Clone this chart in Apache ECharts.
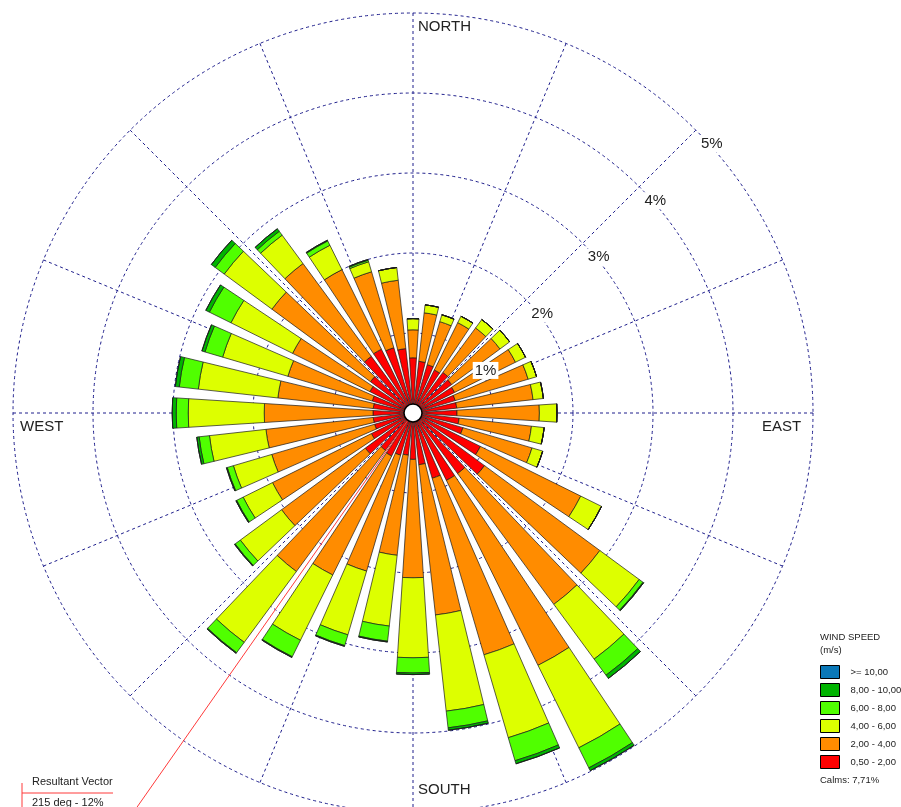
<!DOCTYPE html>
<html>
<head>
<meta charset="utf-8">
<title>Wind Rose</title>
<script src="https://cdn.jsdelivr.net/npm/echarts/dist/echarts.min.js"></script>
<style>
  html, body { margin: 0; padding: 0; background: #fff; }
  #main { width: 901px; height: 807px; }
</style>
</head>
<body>
<div id="main"></div>
<script>
// Wind directions (degrees, blowing from), 10-degree sectors
const directions = ['0','10','20','30','40','50','60','70','80','90','100','110',
  '120','130','140','150','160','170','180','190','200','210','220','230',
  '240','250','260','270','280','290','300','310','320','330','340','350'];

// Frequency (%) per speed class and direction
const speed_0_5_2 = [0.69,0.65,0.63,0.60,0.63,0.60,0.58,0.55,0.55,0.55,0.58,0.65,
  0.94,1.11,0.94,0.94,0.85,0.65,0.58,0.53,0.55,0.60,0.58,0.74,
  0.58,0.50,0.50,0.50,0.50,0.53,0.60,0.66,0.88,0.89,0.85,0.81];
const speed_2_4 = [0.35,0.61,0.56,0.66,0.69,0.75,0.85,0.95,0.96,1.03,0.91,0.90,
  1.40,1.79,2.03,2.58,2.30,1.89,1.48,1.26,1.51,1.66,1.88,1.30,
  1.38,1.34,1.35,1.36,1.20,1.10,1.08,1.53,1.44,1.11,0.99,0.86];
const speed_4_6 = [0.14,0.10,0.09,0.09,0.13,0.15,0.14,0.11,0.13,0.22,0.16,0.14,
  0.29,0.61,0.85,1.15,1.08,1.21,1.00,0.89,0.83,0.91,1.10,0.64,
  0.41,0.50,0.71,0.95,1.00,0.85,0.86,0.74,0.44,0.34,0.13,0.16];
const speed_6_8 = [0,0,0,0,0,0,0,0,0,0,0,0,
  0,0.06,0.25,0.28,0.30,0.21,0.19,0.19,0.14,0.23,0.16,0.08,
  0.09,0.08,0.13,0.15,0.24,0.23,0.30,0.14,0.06,0.06,0.02,0];
const speed_8_10 = [0,0,0,0,0,0,0,0,0,0,0,0,
  0,0.01,0.05,0.04,0.04,0.03,0.02,0.01,0.01,0.01,0.01,0.01,
  0.01,0.01,0.03,0.05,0.05,0.04,0.05,0.06,0.04,0.01,0.01,0];
const speed_10_up = [0,0,0,0,0,0,0,0,0,0,0,0,
  0,0,0,0,0,0,0,0,0,0,0,0,
  0,0,0,0,0,0,0,0,0,0,0,0];

// Speed class labels (m/s), innermost first
const classLabels = ['0,50 - 2,00','2,00 - 4,00','4,00 - 6,00','6,00 - 8,00','8,00 - 10,00','>= 10,00'];
const classValues = [speed_0_5_2, speed_2_4, speed_4_6, speed_6_8, speed_8_10, speed_10_up];
const classColors = ['#ff0000','#ff8c00','#ddff00','#50ff00','#00b400','#0a78b8'];

// Frequency rings (%)
const ringTicks = [1, 2, 3, 4, 5];
const compassLabels = ['NORTH', 'EAST', 'SOUTH', 'WEST'];
const calmsPct = 7.71;
const resultantDir = 215;
const resultantPct = 12;

const FONT = '"Liberation Sans", Arial, sans-serif';
const CENTER = [413, 413];
const OUTER_R = 400;
const RING_MAX = 5;
const gridColor = '#1e1e8c';

const chart = echarts.init(document.getElementById('main'), null, { renderer: 'canvas' });

const barSeries = classLabels.map((name, k) => ({
  type: 'bar',
  name: name,
  coordinateSystem: 'polar',
  polarIndex: 0,
  stack: 'wind',
  data: classValues[k],
  barCategoryGap: '27%',
  silent: true,
  itemStyle: { color: classColors[k], borderColor: '#1a1a1a', borderWidth: 0.7 }
}));

const option = {
  animation: false,
  backgroundColor: '#fff',
  polar: [
    { center: CENTER, radius: [0, OUTER_R] },
    { center: CENTER, radius: [0, OUTER_R] },
    { center: CENTER, radius: [0, OUTER_R * resultantPct / RING_MAX] }
  ],
  angleAxis: [
    { polarIndex: 0, type: 'category', data: directions, startAngle: 95, clockwise: true,
      boundaryGap: true, show: false },
    { polarIndex: 1, type: 'value', min: 0, max: 360, interval: 22.5, startAngle: 90, clockwise: true,
      axisLine: { show: false }, axisTick: { show: false }, axisLabel: { show: false },
      splitLine: { show: true, lineStyle: { color: gridColor, width: 1, type: [3, 3] } } },
    { polarIndex: 2, type: 'value', min: 0, max: 360, startAngle: 90, clockwise: true, show: false }
  ],
  radiusAxis: [
    { polarIndex: 0, type: 'value', min: 0, max: RING_MAX, show: false },
    { polarIndex: 1, type: 'value', min: 0, max: RING_MAX, interval: 1,
      axisLine: { show: false }, axisTick: { show: false }, axisLabel: { show: false },
      splitLine: { show: true, lineStyle: { color: gridColor, width: 1, type: [3, 3] } } },
    { polarIndex: 2, type: 'value', min: 0, max: resultantPct, show: false }
  ],
  legend: {
    orient: 'vertical',
    left: 820,
    top: 665,
    padding: 0,
    itemWidth: 19,
    itemHeight: 13,
    itemGap: 4,
    icon: 'rect',
    selectedMode: false,
    data: classLabels.slice().reverse(),
    itemStyle: { borderColor: '#000', borderWidth: 1 },
    textStyle: { fontSize: 9.5, color: '#222', fontFamily: FONT, padding: [0, 0, 0, 6] }
  },
  series: barSeries.concat([{
    type: 'line',
    coordinateSystem: 'polar',
    polarIndex: 2,
    data: [[0, resultantDir], [resultantPct, resultantDir]],
    symbol: 'none',
    silent: true,
    z: 5,
    lineStyle: { color: '#ff3a3a', width: 1 }
  }])
};

chart.setOption(option);

// Ring labels placed along the 45 degree spoke, computed from the grid scale
const ringLabelEls = ringTicks.map(v => {
  const p = chart.convertToPixel({ polarIndex: 1 }, [v, 45]);
  return {
    type: 'text', x: p[0] + 16, y: p[1] + 14, z: 50,
    style: { text: v + '%', font: '15px ' + FONT, fill: '#222', align: 'center',
      verticalAlign: 'middle', backgroundColor: '#fff', padding: [1, 2] }
  };
});

const textStyle = (txt, size) => ({ text: txt, font: size + 'px ' + FONT, fill: '#222',
  align: 'left', verticalAlign: 'middle' });

chart.setOption({
  graphic: [
    { type: 'circle', shape: { cx: CENTER[0], cy: CENTER[1], r: 9 }, z: 60,
      style: { fill: '#fff', stroke: '#000', lineWidth: 1.5 } },
    { type: 'text', x: 418, y: 27, z: 50, style: textStyle(compassLabels[0], 15) },
    { type: 'text', x: 762, y: 427, z: 50, style: textStyle(compassLabels[1], 15) },
    { type: 'text', x: 418, y: 790, z: 50, style: textStyle(compassLabels[2], 15) },
    { type: 'text', x: 20, y: 427, z: 50, style: textStyle(compassLabels[3], 15) },
    { type: 'text', x: 820, y: 637, z: 50, style: textStyle('WIND SPEED', 9.5) },
    { type: 'text', x: 820, y: 650, z: 50, style: textStyle('(m/s)', 9.5) },
    { type: 'text', x: 820, y: 780, z: 50,
      style: textStyle('Calms: ' + calmsPct.toFixed(2).replace('.', ',') + '%', 9.5) },
    { type: 'line', z: 50, shape: { x1: 22, y1: 793, x2: 113, y2: 793 },
      style: { stroke: '#ff3a3a', lineWidth: 1 } },
    { type: 'line', z: 50, shape: { x1: 22, y1: 783, x2: 22, y2: 807 },
      style: { stroke: '#ff3a3a', lineWidth: 1 } },
    { type: 'text', x: 32, y: 782, z: 50, style: textStyle('Resultant Vector', 11) },
    { type: 'text', x: 32, y: 803, z: 50,
      style: textStyle(resultantDir + ' deg - ' + resultantPct + '%', 11) }
  ].concat(ringLabelEls)
});
</script>
</body>
</html>
